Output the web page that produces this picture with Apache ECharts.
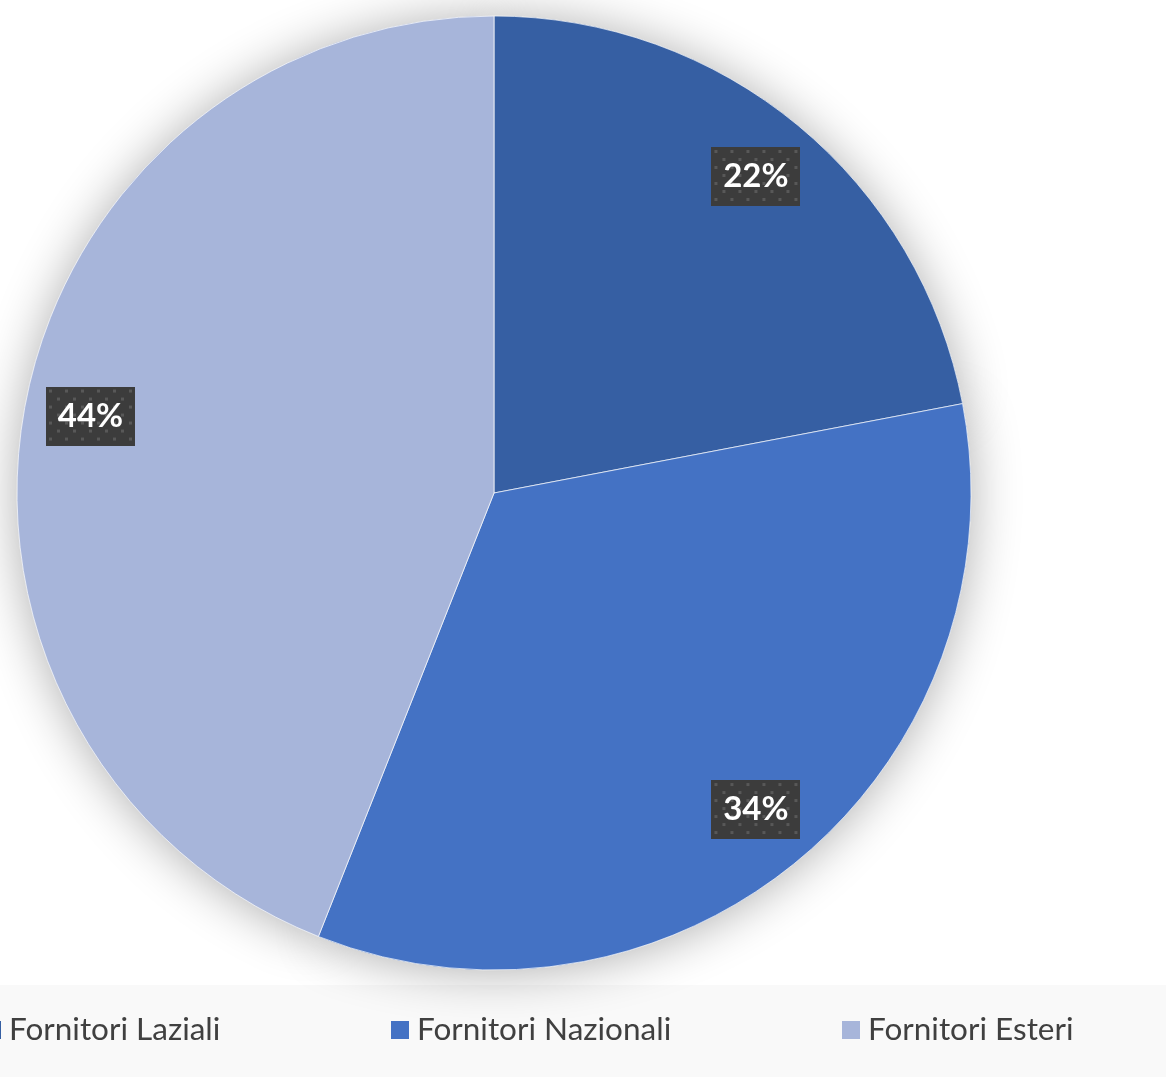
<!DOCTYPE html>
<html>
<head>
<meta charset="utf-8">
<script src="https://cdn.jsdelivr.net/npm/echarts@6/dist/echarts.min.js"></script>
<style>
  html, body { margin: 0; padding: 0; background: #ffffff; }
  #chart { width: 1166px; height: 1077px; }
</style>
</head>
<body>
<div id="chart"></div>
<script>
// Supplier breakdown (share of purchases)
const categories = ['Fornitori Laziali', 'Fornitori Nazionali', 'Fornitori Esteri'];
const shares = [22, 34, 44];
const colors = ['#365fa3', '#4472c4', '#a7b5da'];

const pieData = categories.map((name, i) => ({ name: name, value: shares[i] }));

// Dotted dark fill for the percentage tags
function dottedTile(w, h) {
  const c = document.createElement('canvas');
  c.width = w; c.height = h;
  const g = c.getContext('2d');
  g.fillStyle = '#3c3c3c';
  g.fillRect(0, 0, w, h);
  g.fillStyle = '#585858';
  for (let row = 0, y = 3; y < h; row++, y += 8) {
    for (let x = (row % 2 ? 11 : 3); x < w; x += 16) {
      g.fillRect(x, y, 3, 3);
    }
  }
  return c;
}
const tagW = 89, tagH = 59;
const tagTile = dottedTile(tagW, tagH);

const center = [494, 493];
const R = 477;

const chart = echarts.init(document.getElementById('chart'), null, { renderer: 'canvas' });

const legendBase = {
  orient: 'horizontal',
  top: 1014,
  padding: 0,
  icon: 'rect',
  itemWidth: 18,
  itemHeight: 18,
  selectedMode: false,
  textStyle: {
    fontFamily: 'Lato',
    fontSize: 31.5,
    color: '#404040',
    padding: [0, 0, 0, 3]
  }
};

chart.setOption({
  animation: false,
  backgroundColor: '#ffffff',
  color: colors,
  graphic: [{
    type: 'rect',
    z: -10,
    silent: true,
    shape: { x: 0, y: 985, width: 1166, height: 92 },
    style: { fill: '#f9f9f9' }
  }],
  legend: [
    Object.assign({}, legendBase, { left: -17, data: [categories[0]] }),
    Object.assign({}, legendBase, { left: 391, data: [categories[1]] }),
    Object.assign({}, legendBase, { left: 842, data: [categories[2]] })
  ],
  series: [
    {
      // soft drop shadow under the whole disc
      type: 'pie',
      center: center,
      radius: [0, R],
      startAngle: 90,
      silent: true,
      z: 1,
      label: { show: false },
      labelLine: { show: false },
      itemStyle: {
        shadowBlur: 50,
        shadowColor: 'rgba(0,0,0,0.32)',
        shadowOffsetX: 0,
        shadowOffsetY: 2
      },
      data: pieData
    },
    {
      type: 'pie',
      center: center,
      radius: [0, R],
      startAngle: 90,
      silent: true,
      z: 2,
      label: { show: false },
      labelLine: { show: false },
      itemStyle: {
        borderColor: 'rgba(255,255,255,0.7)',
        borderWidth: 1
      },
      data: pieData
    },
    {
      // transparent ring that carries the percentage tags
      type: 'pie',
      center: center,
      radius: [R * 0.71, R],
      startAngle: 90,
      silent: true,
      z: 3,
      itemStyle: { color: 'rgba(0,0,0,0)' },
      labelLine: { show: false },
      label: {
        show: true,
        position: 'inside',
        formatter: p => p.value + '%',
        fontFamily: 'Lato',
        fontWeight: 'bold',
        fontSize: 33,
        color: '#ffffff',
        width: tagW,
        height: tagH,
        lineHeight: tagH,
        align: 'center',
        verticalAlign: 'middle',
        backgroundColor: { image: tagTile },
        shadowColor: 'rgba(0,0,0,0.45)',
        shadowBlur: 6,
        shadowOffsetX: 3,
        shadowOffsetY: 3
      },
      data: pieData
    }
  ]
});
</script>
</body>
</html>
